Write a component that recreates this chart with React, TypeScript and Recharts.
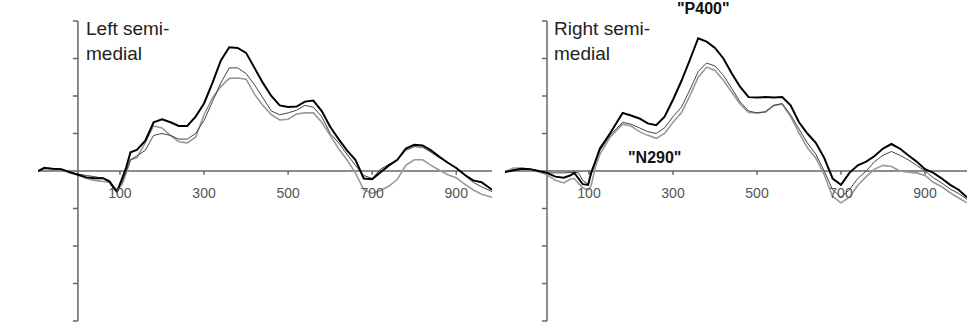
import { LineChart, Line, XAxis, YAxis, ReferenceLine } from 'recharts';

// time points (ms) and amplitudes
const leftTimes = [
  -95, -80, -60, -40, -20, 0, 20, 40, 60, 75, 85, 93, 105, 115, 125, 140, 160, 180, 200, 220,
  240, 260, 280, 300, 320, 340, 360, 380, 400, 420, 440, 460, 480, 500, 520, 540, 560, 580,
  600, 620, 640, 660, 680, 700, 720, 740, 760, 780, 800, 820, 840, 860, 880, 900, 920, 940,
  960, 985,
];
const leftBlack = [
  0.0, 0.08, 0.06, 0.05, -0.03, -0.1, -0.17, -0.19, -0.19, -0.28, -0.45, -0.55, -0.2, 0.1, 0.5,
  0.56, 0.8, 1.3, 1.38, 1.3, 1.2, 1.2, 1.45, 1.8, 2.35, 2.95, 3.3, 3.28, 3.15, 2.75, 2.35, 2.0,
  1.75, 1.71, 1.72, 1.85, 1.88, 1.6, 1.18, 0.85, 0.55, 0.3, -0.2, -0.22, -0.03, 0.15, 0.3, 0.6,
  0.7, 0.68, 0.55, 0.38, 0.22, 0.08, -0.1, -0.25, -0.3, -0.5,
];
const leftDark = [
  0.0, 0.08, 0.06, 0.04, -0.02, -0.08, -0.12, -0.15, -0.2, -0.25, -0.4, -0.5, -0.3, 0.0, 0.3,
  0.4, 0.55, 0.95, 1.0, 0.95, 0.85, 0.85, 1.0, 1.35, 1.85, 2.35, 2.75, 2.75, 2.6, 2.3, 1.95,
  1.6, 1.5, 1.55, 1.62, 1.75, 1.7, 1.45, 1.0, 0.75, 0.45, 0.15, -0.12, -0.2, 0.05, 0.18, 0.3,
  0.55, 0.65, 0.63, 0.5, 0.35, 0.22, 0.08, -0.12, -0.3, -0.42, -0.55,
];
const leftLight = [
  0.0, 0.1, 0.05, 0.05, -0.05, -0.1, -0.2, -0.25, -0.28, -0.3, -0.45, -0.55, -0.35, -0.05, 0.3,
  0.35, 0.75, 1.2, 1.15, 0.95, 0.78, 0.75, 0.9, 1.5, 1.95, 2.25, 2.47, 2.48, 2.45, 2.05, 1.75,
  1.5, 1.36, 1.38, 1.52, 1.55, 1.55, 1.3, 0.95, 0.6, 0.3, -0.05, -0.5, -0.6, -0.52, -0.4,
  -0.22, 0.15, 0.3, 0.3, 0.15, 0.02, -0.1, -0.18, -0.35, -0.5, -0.62, -0.7,
];

const rightTimes = [
  -100, -80, -60, -40, -20, 0, 20, 40, 55, 65, 75, 85, 98, 105, 115, 126, 150, 180, 200, 220,
  240, 260, 280, 300, 320, 340, 360, 380, 400, 420, 440, 460, 480, 500, 520, 540, 560, 580,
  600, 620, 640, 660, 680, 700, 720, 740, 760, 780, 800, 820, 840, 860, 880, 900, 920, 940,
  960, 980, 1000,
];
const rightBlack = [
  -0.03, 0.02, 0.06, 0.05, 0.0, -0.05, -0.15, -0.18, -0.12, -0.05, -0.2, -0.35, -0.37, -0.05,
  0.25, 0.6, 1.0, 1.55, 1.48, 1.4, 1.27, 1.22, 1.45, 1.9, 2.4, 2.96, 3.54, 3.45, 3.28, 3.0, 2.6,
  2.24, 1.97, 1.96, 1.97, 1.96, 1.97, 1.75, 1.3, 1.0, 0.75, 0.35, -0.2, -0.37, -0.05, 0.15,
  0.25, 0.4, 0.6, 0.72, 0.6, 0.42, 0.25, 0.05, -0.05, -0.2, -0.37, -0.5, -0.7,
];
const rightDark = [
  -0.03, 0.03, 0.06, 0.05, 0.0, -0.05, -0.05, -0.05, -0.04, -0.03, -0.05, -0.25, -0.35, -0.1,
  0.25, 0.55, 0.95, 1.3, 1.25, 1.15, 1.05, 1.0, 1.15, 1.45, 1.7, 2.16, 2.65, 2.88, 2.8, 2.55,
  2.2, 1.84, 1.6, 1.55, 1.58, 1.75, 1.8, 1.5, 1.12, 0.75, 0.45, 0.0, -0.5, -0.7, -0.5, -0.2,
  0.0, 0.25, 0.42, 0.52, 0.42, 0.3, 0.15, 0.0, -0.18, -0.32, -0.48, -0.6, -0.75,
];
const rightLight = [
  -0.03, 0.08, 0.08, 0.04, -0.02, -0.1, -0.25, -0.32, -0.22, -0.2, -0.33, -0.45, -0.5, -0.4,
  0.1, 0.45, 0.9, 1.25, 1.2, 1.05, 0.95, 0.87, 1.0, 1.3, 1.55, 2.0, 2.5, 2.77, 2.68, 2.42, 2.1,
  1.78, 1.56, 1.55, 1.57, 1.75, 1.78, 1.45, 1.02, 0.62, 0.35, -0.1, -0.68, -0.85, -0.7, -0.38,
  -0.15, 0.05, 0.15, 0.12, 0.0, -0.03, -0.05, -0.12, -0.3, -0.42, -0.58, -0.72, -0.85,
];

const yTicks = [-4, -3, -2, -1, 1, 2, 3, 4];
const xTicks = [100, 300, 500, 700, 900];

const FONT = '"Liberation Sans", Arial, sans-serif';
const AXIS = '#666';

interface PanelProps {
  times: number[];
  black: number[];
  dark: number[];
  light: number[];
  domain: [number, number];
  width: number;
  left: number;
  right: number;
}

function Panel({ times, black, dark, light, domain, width, left, right }: PanelProps) {
  const data = times.map((t, i) => ({ t, black: black[i], dark: dark[i], light: light[i] }));
  return (
    <LineChart width={width} height={334} data={data} margin={{ top: 21, bottom: 13, left, right }}>
      <XAxis type="number" dataKey="t" domain={domain} hide allowDataOverflow />
      <YAxis type="number" domain={[-4, 4]} hide allowDataOverflow />
      <ReferenceLine y={0} stroke={AXIS} strokeWidth={1.5} />
      <ReferenceLine x={0} stroke={AXIS} strokeWidth={1.5} />
      {yTicks.map((v) => (
        <ReferenceLine
          key={'y' + v}
          segment={[
            { x: -12, y: v },
            { x: 0, y: v },
          ]}
          stroke={AXIS}
          strokeWidth={1.5}
        />
      ))}
      {xTicks.map((t) => (
        <ReferenceLine
          key={'x' + t}
          segment={[
            { x: t, y: 0 },
            { x: t, y: -0.1 },
          ]}
          stroke={AXIS}
          strokeWidth={1.5}
          label={{ value: String(t), position: 'bottom', offset: 13, fill: '#555', fontSize: 14 }}
        />
      ))}
      <Line
        type="linear"
        dataKey="light"
        stroke="#999"
        strokeWidth={1.6}
        dot={false}
        isAnimationActive={false}
      />
      <Line
        type="linear"
        dataKey="dark"
        stroke="#444"
        strokeWidth={1}
        dot={false}
        isAnimationActive={false}
      />
      <Line
        type="linear"
        dataKey="black"
        stroke="#000"
        strokeWidth={2}
        dot={false}
        isAnimationActive={false}
      />
    </LineChart>
  );
}

const titleStyle = {
  position: 'absolute' as const,
  fontSize: 19,
  lineHeight: '25px',
  color: '#222',
  whiteSpace: 'nowrap' as const,
};
const peakStyle = {
  position: 'absolute' as const,
  fontSize: 16,
  lineHeight: '16px',
  fontWeight: 'bold' as const,
  color: '#111',
};

export default function App() {
  return (
    <div style={{ position: 'relative', width: 980, height: 334, fontFamily: FONT, background: '#fff' }}>
      <style>{'body{margin:0}'}</style>
      <div style={{ position: 'absolute', left: 0, top: 0 }}>
        <Panel
          times={leftTimes}
          black={leftBlack}
          dark={leftDark}
          light={leftLight}
          domain={[-95, 985]}
          width={495}
          left={38}
          right={3}
        />
      </div>
      <div style={{ position: 'absolute', left: 495, top: 0 }}>
        <Panel
          times={rightTimes}
          black={rightBlack}
          dark={rightDark}
          light={rightLight}
          domain={[-100, 1000]}
          width={485}
          left={10}
          right={13}
        />
      </div>
      <div style={{ ...titleStyle, left: 86, top: 16 }}>
        Left semi-
        <br />
        medial
      </div>
      <div style={{ ...titleStyle, left: 554, top: 16 }}>
        Right semi-
        <br />
        medial
      </div>
      <div style={{ ...peakStyle, left: 677, top: 1 }}>"P400"</div>
      <div style={{ ...peakStyle, left: 628, top: 150 }}>"N290"</div>
    </div>
  );
}
